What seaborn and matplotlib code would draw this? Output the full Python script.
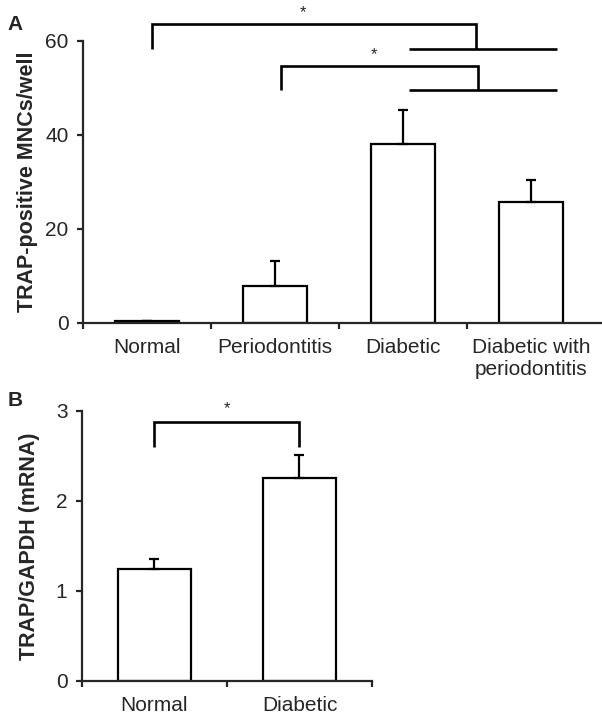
import matplotlib
matplotlib.use("Agg")
import matplotlib.pyplot as plt
import seaborn as sns
import pandas as pd

# Panel A data
cats_a = ["Normal", "Periodontitis", "Diabetic", "Diabetic with\nperiodontitis"]
vals_a = [0.4, 7.9, 38.1, 25.7]
err_a = [0.0, 5.3, 7.2, 4.7]
yticks_a = [0, 20, 40, 60]

# Panel B data
cats_b = ["Normal", "Diabetic"]
vals_b = [1.24, 2.25]
err_b = [0.11, 0.26]
yticks_b = [0, 1, 2, 3]

sns.set_style("ticks")
plt.rcParams["font.family"] = ["Liberation Sans", "DejaVu Sans"]

fig = plt.figure(figsize=(6.02, 7.15), dpi=100)
axA = fig.add_axes([0.1379, 0.5483, 0.8621, 0.3944])
axB = fig.add_axes([0.1362, 0.0476, 0.4817, 0.3776])

LW = 1.6
BLW = 1.9


def draw(ax, cats, vals, errs, yticks, ylabel, ymax, xmax, major_ticks, labx):
    df = pd.DataFrame({"cat": cats, "val": vals})
    sns.barplot(data=df, x="cat", y="val", ax=ax, color="white",
                edgecolor="black", linewidth=LW, width=0.5, errorbar=None,
                order=cats)
    xs = list(range(len(cats)))
    ax.errorbar(xs, vals, yerr=[[0] * len(errs), errs], fmt="none",
                ecolor="black", elinewidth=LW, capsize=3.5, capthick=LW,
                zorder=1)
    ax.set_xlim(-0.5, xmax)
    ax.set_ylim(0, ymax)
    ax.set_yticks(yticks)
    ax.set_xticks(major_ticks, minor=False)
    ax.set_xticklabels([""] * len(major_ticks))
    ax.set_xticks(xs, minor=True)
    ax.set_xticklabels(cats, minor=True, fontsize=15)
    ax.tick_params(axis="x", which="minor", length=0, pad=11)
    ax.tick_params(axis="x", which="major", length=4.5, width=LW)
    ax.tick_params(axis="y", length=4.5, width=LW, labelsize=15, pad=6)
    ax.set_xlabel("")
    ax.set_ylabel(ylabel, fontsize=15.5, fontweight="bold", va="center")
    ax.yaxis.set_label_coords(labx, 0.5)
    for s in ["left", "bottom"]:
        ax.spines[s].set_linewidth(LW)
    sns.despine(ax=ax)


draw(axA, cats_a, vals_a, err_a, yticks_a, "TRAP-positive MNCs/well", 60,
     3.555, [-0.5, 0.5, 1.5, 2.5], (27 - 83) / 519)
draw(axB, cats_b, vals_b, err_b, yticks_b, "TRAP/GAPDH (mRNA)", 3,
     1.5, [-0.5, 0.5, 1.5], (29.5 - 82) / 290)

kw = dict(color="black", lw=BLW, clip_on=False, solid_capstyle="butt",
          solid_joinstyle="miter")
# Panel A brackets
axA.plot([0.04, 0.04, 2.57, 2.57], [58.3, 63.6, 63.6, 58.3], **kw)
axA.plot([2.05, 3.2], [58.3, 58.3], **kw)
axA.text(1.22, 66.0, "*", ha="center", va="center", fontsize=12)
axA.plot([1.05, 1.05, 2.59, 2.59], [49.6, 54.7, 54.7, 49.6], **kw)
axA.plot([2.05, 3.2], [49.6, 49.6], **kw)
axA.text(1.77, 57.2, "*", ha="center", va="center", fontsize=12)

# Panel B bracket
axB.plot([0.0, 0.0, 1.0, 1.0], [2.6, 2.88, 2.88, 2.6], **kw)
axB.text(0.5, 3.03, "*", ha="center", va="center", fontsize=12)

fig.text(15 / 602, 1 - 25 / 715, "A", fontsize=15, fontweight="bold",
         ha="center", va="center")
fig.text(15 / 602, 1 - 400 / 715, "B", fontsize=15, fontweight="bold",
         ha="center", va="center")

fig.savefig("out.png", dpi=100)
